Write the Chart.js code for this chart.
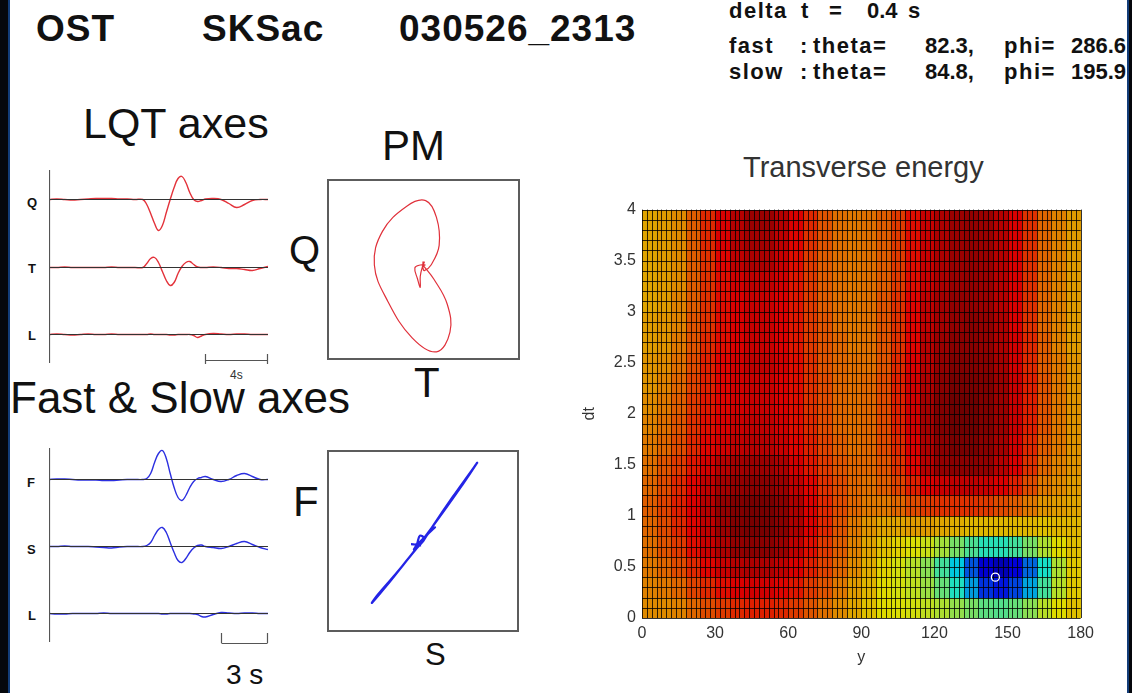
<!DOCTYPE html>
<html>
<head>
<meta charset="utf-8">
<script src="https://cdn.jsdelivr.net/npm/chart.js@4.4.1/dist/chart.umd.min.js"></script>
<style>
  body { margin: 0; background: #fff; }
  #page { position: relative; width: 1132px; height: 693px; overflow: hidden; background: #fff;
          font-family: "Liberation Sans", Arial, sans-serif; color: #111; }
  .t { position: absolute; white-space: pre; line-height: 1; }
  .t span { position: absolute; top: 0; }
  .w { letter-spacing: 1.5px; }
  .b { font-weight: bold; }
  canvas { position: absolute; }
  .box { position: absolute; border: 2px solid #5c5c5c; box-sizing: border-box; }
  .edge { position: absolute; top: 0; height: 693px; }
</style>
</head>
<body>
<div id="page">
  <div class="edge" style="left:0;width:8px;background:#05070c"></div>
  <div class="edge" style="left:8px;width:2px;background:#123c78"></div>
  <div class="edge" style="left:1127px;width:2px;background:#123c78"></div>
  <div class="edge" style="left:1129px;width:3px;background:#05070c"></div>

  <div class="t b" style="left:36px;top:10px;font-size:37px;letter-spacing:1px">OST</div>
  <div class="t b" style="left:202px;top:10px;font-size:37px;letter-spacing:1px">SKSac</div>
  <div class="t b" style="left:399px;top:10px;font-size:37px;letter-spacing:1px">030526_2313</div>

  <div class="t b" style="left:729px;top:0px;font-size:22px"><span class="w" style="left:0">delta</span><span style="left:72px">t</span><span style="left:100px">=</span><span style="left:138px">0.4</span><span style="left:179px">s</span></div>
  <div class="t b" style="left:729px;top:35px;font-size:22px"><span class="w" style="left:0">fast</span><span style="left:71px">:</span><span class="w" style="left:84px">theta=</span><span style="left:196px">82.3,</span><span class="w" style="left:275px">phi=</span><span style="left:342px">286.6</span></div>
  <div class="t b" style="left:729px;top:61px;font-size:22px"><span class="w" style="left:0">slow</span><span style="left:71px">:</span><span class="w" style="left:84px">theta=</span><span style="left:196px">84.8,</span><span class="w" style="left:275px">phi=</span><span style="left:342px">195.9</span></div>

  <div class="t" style="left:83px;top:102px;font-size:43px">LQT axes</div>
  <div class="t" style="left:10px;top:376px;font-size:44px">Fast &amp; Slow axes</div>
  <div class="t" style="left:382px;top:125px;font-size:42px">PM</div>
  <div class="t" style="left:289px;top:230px;font-size:40px">Q</div>
  <div class="t" style="left:414px;top:362px;font-size:42px">T</div>
  <div class="t" style="left:293px;top:481px;font-size:42px">F</div>
  <div class="t" style="left:425px;top:639px;font-size:31px">S</div>
  <div class="t" style="left:226px;top:661px;font-size:28px">3 s</div>
  <div class="t" style="left:230px;top:369px;font-size:12px;color:#333">4s</div>
  <div class="t" style="left:743px;top:153px;font-size:29px;color:#333">Transverse energy</div>

  <div class="t b" style="left:27px;top:196px;font-size:13px">Q</div>
  <div class="t b" style="left:28px;top:262px;font-size:13px">T</div>
  <div class="t b" style="left:28px;top:329px;font-size:13px">L</div>
  <div class="t b" style="left:27px;top:476px;font-size:13px">F</div>
  <div class="t b" style="left:27px;top:543px;font-size:13px">S</div>
  <div class="t b" style="left:28px;top:609px;font-size:13px">L</div>

  <canvas id="lqt" width="220" height="196" style="left:49px;top:170px"></canvas>
  <canvas id="fsl" width="220" height="200" style="left:49px;top:448px"></canvas>
  <div class="box" style="left:327px;top:179px;width:193px;height:181px">
    <canvas id="pmQT" width="189" height="177" style="left:0;top:0"></canvas>
  </div>
  <div class="box" style="left:327px;top:450px;width:192px;height:182px">
    <canvas id="pmFS" width="188" height="178" style="left:0;top:0"></canvas>
  </div>
  <canvas id="energy" width="540" height="480" style="left:560px;top:194px"></canvas>
</div>

<script>
// ---- seismograms (time in s, amplitude in trace units, up positive) ----
const timeSec = [0, 0.5, 1, 1.5, 2, 2.5, 3, 3.5, 4, 4.5, 5, 5.5,
  6, 6.25, 6.5, 6.75, 7, 7.25, 7.5, 7.75, 8, 8.25, 8.5, 8.75, 9, 9.25, 9.5, 9.75,
  10, 10.5, 11, 11.5, 12, 12.5, 13, 13.5, 14];

const qTrace = [0, 0.5, 0, -0.5, 0, 0.5, 1, 1, 1, 0.5, 0.5, 0,
  0, -5, -14, -24, -31, -26, -13, 0, 12, 21, 23, 17, 7, 0, -2, -1,
  0.5, 1, 0, -4, -8, -5, -1, 0, 0];
const tTrace = [0, 0, 0.5, 0, 0, 0, 0, 0, 0.5, 0, 0, 0,
  0, 4, 9, 10, 5, -4, -13, -18, -15, -6, 1, 5, 6, 3, 0.5, 0,
  0, 0.5, 0, -1, -1, -2, -3, -1, 1];
const lTraceLQT = [0, 0.5, 0, -0.5, 0, 0.5, 0, 0, 0.5, 0, 0, 0,
  0, 0, 0.5, 0, 0, 0, 0, -0.5, -0.5, 0, 0, 0, 0, -1, -3, -1.5,
  0, 1, 0.5, 0, 0.5, 0.5, 0, 0, 0];

const fTrace = [0, 0.5, 0.5, 0, -0.5, -0.5, -0.5, -1, -1, -0.5, 0, 0,
  0, 1, 6, 17, 26, 29, 21, 6, -8, -18, -21, -16, -8, -2, 1, 2,
  3, 0, -2, 0, 4, 6, 3, 0, 0];
const sTrace = [0, 0, 0.5, 0, 0, 0, -0.5, -1, -1.5, -0.5, 0, 0,
  0, 1, 4, 11, 17, 19, 14, 4, -6, -14, -16, -12, -6, -1.5, 1, 1.5,
  0, -1, -2, 0, 3, 5, 2, -1, -3];
const lTraceFS = [0, -0.5, -0.5, 0, 0, 0, 0, 0.5, 0, 0, 0, 0,
  0, 0, 0, 0, 0, -0.5, -0.5, 0, 0, 0, 0, 0, 0, -0.5, -1, -3,
  -3.5, -1, 1, 0.5, 0, 0.5, 0.5, 0, 0];

// ---- transverse energy grid (jet colour index 0-100) ----
const phiCenters = [3, 9, 15, 21, 27, 33, 39, 45, 51, 57, 63, 69, 75, 81, 87,
  93, 99, 105, 111, 117, 123, 129, 135, 141, 147, 153, 159, 165, 171, 177];
const dtCenters = [3.9, 3.7, 3.5, 3.3, 3.1, 2.9, 2.7, 2.5, 2.3, 2.1,
  1.9, 1.7, 1.5, 1.3, 1.1, 0.9, 0.7, 0.5, 0.3, 0.1];
const energy = [
  [69,70,72,77,83,88,92,95,95,92, 88,83,78,75,74,75,77,81,86,90, 93,95,96,95,92,88,82,76,73,70],
  [69,70,72,77,83,88,92,94,94,91, 87,82,78,75,74,75,77,81,86,90, 93,95,96,95,92,88,82,76,73,70],
  [69,70,72,77,82,87,91,93,93,90, 86,81,77,75,74,75,77,81,86,90, 93,95,96,95,92,88,82,76,73,70],
  [69,70,72,77,82,86,89,91,91,89, 85,81,77,75,74,75,77,81,86,90, 93,95,96,95,92,88,82,76,73,70],
  [69,70,73,77,82,86,88,90,90,88, 85,81,77,75,74,75,78,82,87,91, 94,96,96,95,92,88,82,76,73,70],
  [70,71,73,78,82,86,88,90,90,88, 85,81,78,75,74,75,78,82,87,91, 94,96,97,96,93,88,82,76,73,70],
  [70,71,74,78,83,86,88,90,90,88, 85,81,78,76,74,75,78,82,87,92, 95,97,97,96,93,89,83,77,73,70],
  [71,72,75,79,84,87,89,91,91,89, 86,82,78,76,75,75,78,83,88,92, 96,98,98,97,94,89,83,77,74,71],
  [71,73,76,80,84,87,89,90,90,88, 86,82,79,76,75,76,79,84,89,93, 97,99,99,98,95,90,84,78,74,71],
  [72,74,77,81,85,87,89,90,90,88, 86,82,79,76,75,76,79,84,89,94, 98,100,100,98,95,90,84,78,74,71],
  [73,75,78,82,86,88,90,91,91,89, 86,83,79,76,75,76,79,84,89,94, 98,100,100,98,95,90,84,78,74,71],
  [74,76,79,83,87,89,91,92,92,90, 87,84,80,77,75,76,79,83,88,93, 97,99,99,97,94,89,83,77,74,71],
  [75,78,81,85,89,92,94,95,95,93, 89,85,81,78,76,76,78,82,87,92, 96,97,97,96,92,88,82,76,73,71],
  [76,79,83,87,91,94,96,97,97,95, 91,87,82,79,76,75,77,80,84,88, 90,91,91,90,88,84,79,74,72,70],
  [77,80,84,88,92,96,98,99,99,97, 93,88,83,79,76,74,74,76,79,81, 82,82,82,81,79,77,74,71,70,69],
  [76,79,83,87,91,95,98,99,99,97, 93,88,83,78,74,71,69,69,70,70, 69,68,67,67,67,67,67,66,67,67],
  [75,78,81,86,90,93,96,97,97,95, 91,86,81,77,73,69,66,64,62,60, 56,51,46,42,42,45,51,57,63,66],
  [74,76,79,83,87,90,92,93,93,91, 88,84,80,76,72,68,64,61,58,53, 45,35,22,11,8,12,24,40,57,65],
  [73,74,76,80,83,86,88,89,89,87, 85,81,78,74,70,67,63,61,59,55, 49,41,30,18,15,20,31,45,58,65],
  [72,72,73,76,79,81,83,84,84,83, 81,78,75,72,69,66,63,62,61,59, 57,54,51,48,47,49,53,58,63,66]
];
const bestFit = [{ x: 145, y: 0.4 }];
const phiTicks = [0, 30, 60, 90, 120, 150, 180];

Chart.defaults.font.family = '"Liberation Sans", Arial, sans-serif';
Chart.defaults.animation = false;

const pxPerSec = 15.64;

function jet(v) {
  const c = (n) => Math.round(222 * Math.max(0, Math.min(1, n)));
  return `rgb(${c(1.5 - Math.abs(4 * v - 3))},${c(1.5 - Math.abs(4 * v - 2))},${c(1.5 - Math.abs(4 * v - 1))})`;
}

// axis line and time scale bar beside the traces
const traceDecor = {
  id: "traceDecor",
  afterDatasetsDraw(chart, args, opts) {
    const { ctx, scales: { x, y } } = chart;
    ctx.save();
    ctx.strokeStyle = "#555";
    ctx.lineWidth = 1.2;
    ctx.beginPath();
    const ax = Math.round(x.getPixelForValue(0)) + 0.5;
    ctx.moveTo(ax, y.getPixelForValue(0));
    ctx.lineTo(ax, y.getPixelForValue(opts.axisEnd));
    const by = Math.round(y.getPixelForValue(opts.barY)) + 0.5;
    const bx0 = Math.round(x.getPixelForValue(opts.barFrom)) + 0.5;
    const bx1 = Math.round(x.getPixelForValue(opts.barTo)) - 0.5;
    ctx.moveTo(bx0, by);
    ctx.lineTo(bx1, by);
    [bx0, bx1].forEach((bx) => {
      ctx.moveTo(bx, y.getPixelForValue(opts.barY - opts.tickUp));
      ctx.lineTo(bx, y.getPixelForValue(opts.barY + opts.tickDown));
    });
    ctx.stroke();
    ctx.restore();
  }
};

function traceChart(id, traces, offsets, color, decor) {
  const canvas = document.getElementById(id);
  const datasets = [];
  traces.forEach((amp, k) => {
    const base = offsets[k];
    datasets.push({
      data: [{ x: timeSec[0], y: base }, { x: timeSec[timeSec.length - 1], y: base }],
      borderColor: "#333", borderWidth: 1, order: 0, tension: 0
    });
    datasets.push({
      data: timeSec.map((t, i) => ({ x: t, y: base - amp[i] })),
      borderColor: color, borderWidth: 1.4, order: 1, tension: 0.4
    });
  });
  return new Chart(canvas, {
    type: "scatter",
    data: { datasets },
    options: {
      responsive: false,
      showLine: true,
      layout: { padding: 0 },
      elements: { point: { radius: 0 } },
      plugins: { legend: { display: false }, tooltip: { enabled: false }, traceDecor: decor },
      scales: {
        x: { display: false, min: 0, max: canvas.width / pxPerSec },
        y: { display: false, reverse: true, min: 0, max: canvas.height }
      }
    },
    plugins: [traceDecor]
  });
}

traceChart("lqt", [qTrace, tTrace, lTraceLQT], [29.5, 97.5, 164.5], "#e3323a",
  { axisEnd: 193, barY: 190, barFrom: 10, barTo: 14, tickUp: 6, tickDown: 4 });
traceChart("fsl", [fTrace, sTrace, lTraceFS], [31.5, 98.5, 165.5], "#2b2fe0",
  { axisEnd: 194, barY: 195, barFrom: 11, barTo: 14, tickUp: 10, tickDown: 0 });

function pmChart(id, horiz, vert, color, width, xr, yr) {
  return new Chart(document.getElementById(id), {
    type: "scatter",
    data: {
      datasets: [{
        data: timeSec.map((t, i) => ({ x: horiz[i], y: vert[i] })),
        borderColor: color, borderWidth: width, tension: 0.4
      }]
    },
    options: {
      responsive: false,
      showLine: true,
      layout: { padding: 0 },
      elements: { point: { radius: 0 } },
      plugins: { legend: { display: false }, tooltip: { enabled: false } },
      scales: {
        x: { display: false, min: xr[0], max: xr[1] },
        y: { display: false, min: yr[0], max: yr[1] }
      }
    }
  });
}

pmChart("pmQT", tTrace, qTrace, "#e0303a", 1.2, [-34.8, 35.2], [-33.2, 30]);
pmChart("pmFS", sTrace, fTrace, "#2424e6", 2.2, [-30.3, 32.3], [-30.7, 32.9]);

// faceted pcolor cells
const cellPhi = 6, cellDt = 0.2;
const heatPlugin = {
  id: "heat",
  beforeDatasetsDraw(chart) {
    const { ctx, scales: { x, y } } = chart;
    ctx.save();
    dtCenters.forEach((dt, r) => {
      phiCenters.forEach((phi, c) => {
        const x0 = Math.round(x.getPixelForValue(phi - cellPhi / 2));
        const x1 = Math.round(x.getPixelForValue(phi + cellPhi / 2));
        const y0 = Math.round(y.getPixelForValue(dt + cellDt / 2));
        const y1 = Math.round(y.getPixelForValue(dt - cellDt / 2));
        ctx.fillStyle = jet(energy[r][c] / 100);
        ctx.fillRect(x0, y0, x1 - x0, y1 - y0);
      });
    });
    ctx.strokeStyle = "rgba(0,0,0,0.8)";
    ctx.lineWidth = 1;
    ctx.beginPath();
    for (let p = 0; p <= 180; p += 2) {
      const px = Math.round(x.getPixelForValue(p)) + 0.5;
      ctx.moveTo(px, y.top);
      ctx.lineTo(px, y.bottom);
    }
    for (let k = 0; k <= 40; k++) {
      const py = Math.round(y.getPixelForValue(k / 10)) + 0.5;
      ctx.moveTo(x.left, py);
      ctx.lineTo(x.right, py);
    }
    ctx.stroke();
    ctx.restore();
  }
};

new Chart(document.getElementById("energy"), {
  type: "scatter",
  data: {
    datasets: [{
      data: bestFit,
      pointStyle: "circle", pointRadius: 4,
      borderColor: "#ffffff", backgroundColor: "rgba(0,0,0,0)", borderWidth: 1.3
    }]
  },
  options: {
    responsive: false,
    layout: { padding: { left: 0, top: 10, right: 18, bottom: 0 } },
    plugins: { legend: { display: false }, tooltip: { enabled: false } },
    scales: {
      x: {
        min: 0, max: 180,
        afterFit: (s) => { s.height = 56; },
        afterBuildTicks: (s) => { s.ticks = phiTicks.map((v) => ({ value: v })); },
        grid: { display: false, drawTicks: false },
        border: { display: false },
        ticks: { color: "#333", font: { size: 16 }, padding: 6 },
        title: { display: true, text: "y", color: "#333", font: { size: 16 }, padding: { bottom: 7 } }
      },
      y: {
        min: 0, max: 4,
        afterFit: (s) => { s.width = 82; },
        grid: { display: false, drawTicks: false },
        border: { display: false },
        ticks: { stepSize: 0.5, color: "#333", font: { size: 16 }, padding: 6, callback: (v) => String(v) },
        title: { display: true, text: "dt", color: "#333", font: { size: 16 }, padding: { top: 20 } }
      }
    }
  },
  plugins: [heatPlugin]
});
</script>
</body>
</html>
